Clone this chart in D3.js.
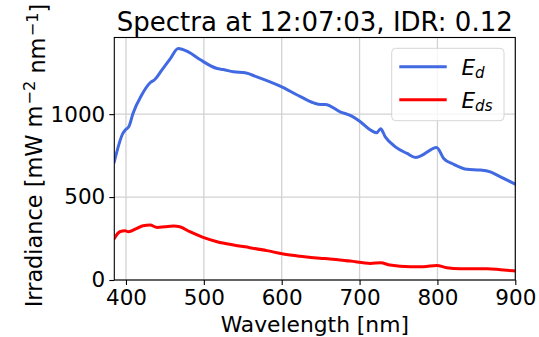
<!DOCTYPE html>
<html>
<head>
<meta charset="utf-8">
<script src="https://cdn.jsdelivr.net/npm/d3@7"></script>
<style>
  html, body { margin: 0; padding: 0; background: #fff; }
  svg { display: block; font-family: "DejaVu Sans", sans-serif; }
</style>
</head>
<body>
<svg id="chart" width="539" height="337"></svg>
<script>
// Downwelling irradiance E_d
const edWavelength = [385, 396, 399, 404, 409, 420, 431, 437, 446, 457, 467, 480, 495, 517, 525, 538, 553, 568, 598, 624, 641, 650, 656, 675, 690, 701, 714, 722, 727, 733, 746, 761, 772, 778, 799, 808, 821, 838, 855, 868, 881, 900];
const edValues = [713, 884, 904, 928, 1004, 1114, 1189, 1209, 1265, 1335, 1396, 1375, 1329, 1275, 1269, 1255, 1249, 1225, 1169, 1106, 1068, 1058, 1058, 1014, 988, 954, 904, 888, 912, 863, 803, 763, 739, 747, 799, 733, 697, 667, 663, 652, 622, 578];

// Diffuse irradiance E_ds
const edsWavelength = [385, 392, 399, 403, 414, 422, 431, 440, 450, 461, 469, 482, 499, 517, 538, 559, 581, 602, 624, 649, 662, 688, 714, 727, 739, 765, 782, 799, 812, 829, 864, 881, 900];
const edsValues = [251, 291, 297, 291, 311, 327, 331, 317, 321, 325, 321, 291, 257, 231, 211, 195, 177, 157, 143, 131, 127, 114, 100, 104, 90, 80, 80, 88, 74, 68, 68, 62, 54];

const xTicks = [400, 500, 600, 700, 800, 900];
const yTicks = [0, 500, 1000];
const xDomain = [385, 900];
const yDomain = [0, 1462];

const titleText = "Spectra at 12:07:03, IDR: 0.12";
const xLabel = "Wavelength [nm]";

const svg = d3.select("#chart");
const plotLeft = 114.3, plotRight = 515.3, plotTop = 37.5, plotBottom = 280;

const x = d3.scaleLinear().domain(xDomain).range([plotLeft, plotRight]);
const y = d3.scaleLinear().domain(yDomain).range([plotBottom, plotTop]);

const tickFont = 21.5;

// grid
const grid = svg.append("g").attr("stroke", "#d2d2d2").attr("stroke-width", 1.3);
grid.selectAll("line.gx").data(xTicks).join("line")
  .attr("x1", d => x(d)).attr("x2", d => x(d))
  .attr("y1", plotTop).attr("y2", plotBottom);
grid.selectAll("line.gy").data(yTicks).join("line")
  .attr("x1", plotLeft).attr("x2", plotRight)
  .attr("y1", d => y(d)).attr("y2", d => y(d));

// clip to plot area
svg.append("clipPath").attr("id", "plotclip")
  .append("rect").attr("x", plotLeft).attr("y", plotTop)
  .attr("width", plotRight - plotLeft).attr("height", plotBottom - plotTop);

const line = d3.line()
  .x(d => x(d[0])).y(d => y(d[1]))
  .curve(d3.curveMonotoneX);

const series = [
  { wl: edWavelength, v: edValues, color: "#4169e1" },
  { wl: edsWavelength, v: edsValues, color: "#ff0000" }
];

const plot = svg.append("g").attr("clip-path", "url(#plotclip)");
series.forEach(s => {
  plot.append("path")
    .datum(d3.zip(s.wl, s.v))
    .attr("fill", "none")
    .attr("stroke", s.color)
    .attr("stroke-width", 3)
    .attr("stroke-linejoin", "round")
    .attr("stroke-linecap", "square")
    .attr("d", line);
});

// axes
const xAxis = d3.axisBottom(x).tickValues(xTicks).tickSize(5).tickPadding(5).tickFormat(d3.format("d"));
const yAxis = d3.axisLeft(y).tickValues(yTicks).tickSize(5).tickPadding(4).tickFormat(d3.format("d"));

const gx = svg.append("g").attr("transform", `translate(0,${plotBottom})`).call(xAxis);
const gy = svg.append("g").attr("transform", `translate(${plotLeft},0)`).call(yAxis);
[gx, gy].forEach(g => {
  g.select(".domain").remove();
  g.selectAll(".tick line").attr("stroke", "#000").attr("stroke-width", 1.1);
  g.selectAll(".tick text")
    .attr("font-family", "DejaVu Sans")
    .attr("font-size", tickFont)
    .attr("fill", "#000");
});

// frame
svg.append("rect")
  .attr("x", plotLeft).attr("y", plotTop)
  .attr("width", plotRight - plotLeft).attr("height", plotBottom - plotTop)
  .attr("fill", "none").attr("stroke", "#000").attr("stroke-width", 1.1);

// title
svg.append("text")
  .attr("x", (plotLeft + plotRight) / 2).attr("y", 30.5)
  .attr("text-anchor", "middle")
  .attr("font-size", 26)
  .attr("fill", "#000")
  .text(titleText);

// x label
svg.append("text")
  .attr("x", (plotLeft + plotRight) / 2).attr("y", 332)
  .attr("text-anchor", "middle")
  .attr("font-size", 21.8)
  .attr("fill", "#000")
  .text(xLabel);

// y label with superscripts
const yl = svg.append("text")
  .attr("transform", `translate(42,155.5) rotate(-90)`)
  .attr("text-anchor", "middle")
  .attr("font-size", 22.4)
  .attr("fill", "#000");
yl.append("tspan").text("Irradiance [mW m");
yl.append("tspan").attr("dx", "0.08em").attr("dy", "-0.42em").attr("font-size", "72%").text("\u22122");
yl.append("tspan").attr("dy", "0.42em").text(" nm");
yl.append("tspan").attr("dx", "0.08em").attr("dy", "-0.42em").attr("font-size", "72%").text("\u22121");
yl.append("tspan").attr("dy", "0.42em").text("]");

// legend
const legend = svg.append("g");
legend.append("rect")
  .attr("x", 391.7).attr("y", 48.3)
  .attr("width", 112.3).attr("height", 72.4)
  .attr("rx", 4).attr("ry", 4)
  .attr("fill", "#fff").attr("fill-opacity", 0.8)
  .attr("stroke", "#d6d6d6").attr("stroke-width", 1);

const legendItems = [
  { sub: "d", color: series[0].color, ly: 66.7, by: 75 },
  { sub: "ds", color: series[1].color, ly: 99.8, by: 107.5 }
];
legendItems.forEach(it => {
  legend.append("line")
    .attr("x1", 399.3).attr("x2", 446.7)
    .attr("y1", it.ly).attr("y2", it.ly)
    .attr("stroke", it.color).attr("stroke-width", 3);
  const t = legend.append("text")
    .attr("x", 461.5).attr("y", it.by)
    .attr("font-size", 21.5)
    .attr("font-style", "italic")
    .attr("fill", "#000");
  t.append("tspan").text("E");
  t.append("tspan").attr("dy", "0.22em").attr("font-size", "70%").text(it.sub);
});
</script>
</body>
</html>
